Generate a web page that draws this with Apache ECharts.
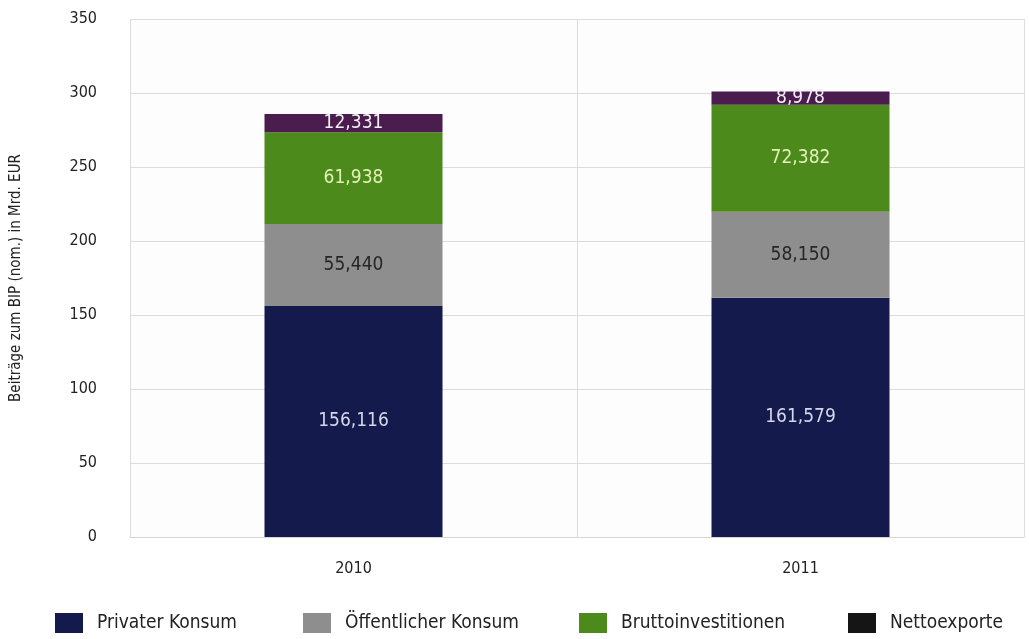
<!DOCTYPE html>
<html>
<head>
<meta charset="utf-8">
<script src="https://cdn.jsdelivr.net/npm/echarts@6/dist/echarts.min.js"></script>
<style>
  html, body { margin: 0; padding: 0; background: #ffffff; }
  #chart { width: 1029px; height: 639px; }
</style>
</head>
<body>
<div id="chart"></div>
<script>
// Beiträge zum BIP (nominal), Mrd. EUR
const years = ['2010', '2011'];
const privaterKonsum = [156.116, 161.579];
const oeffentlicherKonsum = [55.440, 58.150];
const bruttoinvestitionen = [61.938, 72.382];
const nettoexporte = [12.331, 8.978];
const yTicks = { min: 0, max: 350, interval: 50 };

const fontFamily = '"DejaVu Sans Condensed", "DejaVu Sans", sans-serif';
const fmt = p => p.value.toFixed(3).replace('.', ',');

function stackSeries(name, values, color, labelColor) {
  return {
    name: name,
    type: 'bar',
    stack: 'bip',
    barWidth: 178,
    data: values,
    itemStyle: { color: color },
    label: {
      show: true,
      position: 'inside',
      formatter: fmt,
      color: labelColor,
      fontFamily: fontFamily,
      fontSize: 19
    }
  };
}

// one legend per entry so each swatch sits at its own spot
function legendAt(left, name, iconColor) {
  const item = { name: name };
  if (iconColor) item.itemStyle = { color: iconColor };
  return {
    left: left,
    top: 613,
    padding: 0,
    icon: 'rect',
    itemWidth: 28,
    itemHeight: 20,
    textStyle: { fontFamily: fontFamily, fontSize: 19, color: '#222', padding: [10, 0, 0, 9] },
    data: [item]
  };
}

const chart = echarts.init(document.getElementById('chart'), null, { renderer: 'canvas' });
chart.setOption({
  animation: false,
  backgroundColor: '#ffffff',
  grid: { left: 130, right: 5, top: 19, bottom: 102, show: true, backgroundColor: '#fdfdfd', borderWidth: 0 },
  legend: [
    legendAt(55, 'Privater Konsum'),
    legendAt(303, 'Öffentlicher Konsum'),
    legendAt(579, 'Bruttoinvestitionen'),
    legendAt(848, 'Nettoexporte', '#151515')
  ],
  xAxis: {
    type: 'category',
    data: years,
    axisLine: { show: true, lineStyle: { color: '#d6d6d6' } },
    axisTick: { show: false },
    splitLine: { show: true, lineStyle: { color: '#dcdcdc' } },
    axisLabel: { fontFamily: fontFamily, fontSize: 16, color: '#222', margin: 24 }
  },
  yAxis: {
    type: 'value',
    min: yTicks.min,
    max: yTicks.max,
    interval: yTicks.interval,
    name: 'Beiträge zum BIP (nom.) in Mrd. EUR',
    nameLocation: 'middle',
    nameGap: 106,
    nameTextStyle: { fontFamily: fontFamily, fontSize: 15, color: '#222' },
    axisLine: { show: false },
    axisTick: { show: false },
    splitLine: { lineStyle: { color: '#dcdcdc' } },
    axisLabel: { fontFamily: fontFamily, fontSize: 16, color: '#222', margin: 33 }
  },
  series: [
    stackSeries('Privater Konsum', privaterKonsum, '#141a4c', '#d4d6ea'),
    stackSeries('Öffentlicher Konsum', oeffentlicherKonsum, '#8e8e8e', '#262626'),
    stackSeries('Bruttoinvestitionen', bruttoinvestitionen, '#4d8a1c', '#e2f1b8'),
    stackSeries('Nettoexporte', nettoexporte, '#4a1d4e', '#f2eef4')
  ]
});
</script>
</body>
</html>
